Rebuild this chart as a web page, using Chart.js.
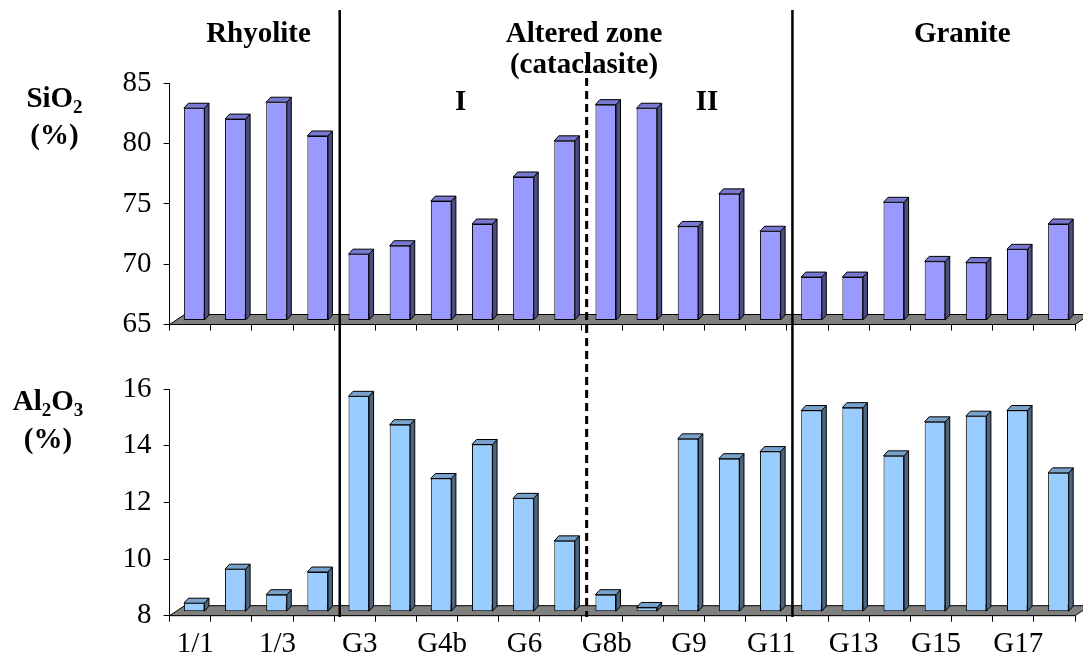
<!DOCTYPE html>
<html>
<head>
<meta charset="utf-8">
<title>SiO2 and Al2O3 across the rhyolite – altered zone – granite profile</title>
<script src="https://cdn.jsdelivr.net/npm/chart.js@4/dist/chart.umd.min.js"></script>
<style>
  html, body { margin: 0; padding: 0; background: #ffffff; }
  #wrap { position: relative; width: 1083px; height: 661px; overflow: hidden; }
  #topPanel { position: absolute; left: 0; top: 0; }
  #bottomPanel { position: absolute; left: 0; top: 355px; }
</style>
</head>
<body>
<div id="wrap">
  <canvas id="topPanel" width="1083" height="355"></canvas>
  <canvas id="bottomPanel" width="1083" height="306"></canvas>
</div>
<script>
// Samples along the profile (only every second one carries a printed name)
const samples = ['1/1', '', '1/3', '', 'G3', '', 'G4b', '', 'G6', '', 'G8b', '',
                 'G9', '', 'G11', '', 'G13', '', 'G15', '', 'G17', ''];

// SiO2 content, wt %
const sio2 = [82.6, 81.7, 83.1, 80.3, 70.5, 71.2, 74.9, 73.0, 76.9, 79.9, 82.9,
              82.6, 72.8, 75.5, 72.4, 68.6, 68.6, 74.8, 69.9, 69.8, 70.9, 73.0];

// Al2O3 content, wt %
const al2o3 = [8.3, 9.5, 8.6, 9.4, 15.6, 14.6, 12.7, 13.9, 12.0, 10.5, 8.6,
               8.15, 14.1, 13.4, 13.65, 15.1, 15.2, 13.5, 14.7, 14.9, 15.1, 12.9];

// Value-axis ranges and steps
const sio2Axis = [65, 85, 5];
const al2o3Axis = [8, 16, 2];

// Lithological units: solid boundaries, dashed sub-boundary (sample index where each begins)
const unitBreaks = [4, 15];
const subUnitBreak = 10;

// Unit headings: [text, position in category units from the left edge, line]
const unitTitles = [
  ['Rhyolite', 2.16, 0],
  ['Altered zone', 10.07, 0],
  ['(cataclasite)', 10.07, 1],
  ['Granite', 19.26, 0]
];
const subUnitTitles = [['I', 7.07], ['II', 13.06]];

const SERIF = '"Liberation Serif", "Times New Roman", Times, serif';
const FLOOR = { dx: 15, dy: -10 };     // depth of the gray floor
const SHIFT = { x: 4, y: -4 };         // bars stand a little way back on the floor
const BAR_DEPTH = { dx: 4.5, dy: -5 }; // depth of each column

function poly(ctx, pts, fill) {
  ctx.beginPath();
  ctx.moveTo(pts[0][0], pts[0][1]);
  for (let i = 1; i < pts.length; i++) ctx.lineTo(pts[i][0], pts[i][1]);
  ctx.closePath();
  ctx.fillStyle = fill;
  ctx.fill();
  ctx.strokeStyle = '#000';
  ctx.lineWidth = 1;
  ctx.stroke();
}

// Floor under the columns plus the top and side faces of each column
const columns3d = {
  id: 'columns3d',
  beforeDatasetsDraw(chart) {
    const { ctx, chartArea: a } = chart;
    ctx.save();
    poly(ctx, [[a.left, a.bottom], [a.right, a.bottom],
               [a.right + FLOOR.dx, a.bottom + FLOOR.dy], [a.left + FLOOR.dx, a.bottom + FLOOR.dy]], '#808080');
    ctx.restore();
    ctx.save();
    ctx.translate(SHIFT.x, SHIFT.y);
  },
  afterDatasetsDraw(chart, args, opts) {
    const ctx = chart.ctx;
    ctx.restore();
    ctx.save();
    const meta = chart.getDatasetMeta(0);
    meta.data.forEach(bar => {
      const p = bar.getProps(['x', 'y', 'base', 'width'], true);
      const l = p.x - p.width / 2 + SHIFT.x, r = p.x + p.width / 2 + SHIFT.x;
      const t = p.y + SHIFT.y, b = p.base + SHIFT.y;
      const dx = BAR_DEPTH.dx, dy = BAR_DEPTH.dy;
      poly(ctx, [[r, t], [r + dx, t + dy], [r + dx, b + dy], [r, b]], opts.side);
      poly(ctx, [[l, t], [r, t], [r + dx, t + dy], [l + dx, t + dy]], opts.top);
    });
    ctx.restore();
  }
};

function boundaryX(xs, i) {
  return (xs.getPixelForValue(i - 1) + xs.getPixelForValue(i)) / 2 + 5.5;
}

// Unit boundaries, headings and the vertical axis title
const annotations = {
  id: 'annotations',
  afterDraw(chart, args, opts) {
    const { ctx, chartArea: a } = chart;
    const xs = chart.scales.x;
    const catW = (a.right - a.left) / samples.length;
    ctx.save();
    ctx.strokeStyle = '#000';

    // solid unit boundaries
    ctx.lineWidth = 2.5;
    unitBreaks.forEach(i => {
      const x = boundaryX(xs, i);
      ctx.beginPath();
      ctx.moveTo(x, opts.solidFrom);
      ctx.lineTo(x, opts.lineTo);
      ctx.stroke();
    });

    // dashed boundary between parts I and II of the altered zone
    ctx.lineWidth = 3;
    ctx.setLineDash([8, 5]);
    ctx.lineDashOffset = opts.dashOffset;
    const xd = boundaryX(xs, subUnitBreak);
    ctx.beginPath();
    ctx.moveTo(xd, opts.dashFrom);
    ctx.lineTo(xd, opts.lineTo);
    ctx.stroke();
    ctx.setLineDash([]);

    ctx.fillStyle = '#000';
    ctx.textAlign = 'center';
    ctx.textBaseline = 'alphabetic';
    ctx.font = 'bold 29px ' + SERIF;
    if (opts.headings) {
      unitTitles.forEach(([txt, pos, line]) => {
        ctx.fillText(txt, a.left + pos * catW, a.top - 41.3 + line * 31.3);
      });
      subUnitTitles.forEach(([txt, pos]) => {
        ctx.fillText(txt, a.left + pos * catW, a.top + 26.7);
      });
    }

    // axis title: chemical formula with subscripts, then "(%)"
    const big = 'bold 29px ' + SERIF, small = 'bold 19px ' + SERIF;
    const parts = opts.formula;
    let total = 0;
    parts.forEach(([s, sub]) => { ctx.font = sub ? small : big; total += ctx.measureText(s).width; });
    let x = opts.titleX - total / 2;
    ctx.textAlign = 'left';
    parts.forEach(([s, sub]) => {
      ctx.font = sub ? small : big;
      ctx.fillText(s, x, a.top + opts.titleDy + (sub ? 6 : 0));
      x += ctx.measureText(s).width;
    });
    ctx.font = big;
    ctx.textAlign = 'center';
    ctx.fillText('(%)', opts.titleX, a.top + opts.titleDy + 37.5);
    ctx.restore();
  }
};

function makeOptions(range, showLabels, xHeight, padTop, plugOpts) {
  return {
    responsive: false,
    animation: false,
    devicePixelRatio: 1,
    layout: { padding: { top: padTop, right: 8, left: 0, bottom: 0 } },
    plugins: {
      legend: { display: false },
      tooltip: { enabled: false },
      columns3d: plugOpts.faces,
      annotations: plugOpts.notes
    },
    scales: {
      x: {
        offset: true,
        afterFit: s => { s.height = xHeight; },
        grid: { offset: true, drawOnChartArea: false, drawTicks: true, tickLength: 6, color: '#000', lineWidth: 1 },
        border: { display: true, color: '#000', width: 1 },
        ticks: {
          autoSkip: false, maxRotation: 0, padding: 5, labelOffset: 5, color: '#000',
          font: { family: SERIF, size: 29 },
          callback: (v, i) => showLabels ? samples[i] : ''
        }
      },
      y: {
        min: range[0], max: range[1],
        afterFit: s => { s.width = 169.6; },
        grid: { drawOnChartArea: false, drawTicks: true, tickLength: 6, color: '#000', lineWidth: 1 },
        border: { display: true, color: '#000', width: 1 },
        ticks: { stepSize: range[2], padding: 12, color: '#000', font: { family: SERIF, size: 29 } }
      }
    }
  };
}

new Chart(document.getElementById('topPanel'), {
  type: 'bar',
  data: {
    labels: samples,
    datasets: [{
      data: sio2, base: sio2Axis[0], backgroundColor: '#9999ff', borderColor: '#000', borderWidth: 1,
      borderSkipped: false, categoryPercentage: 1, barPercentage: 0.5
    }]
  },
  options: makeOptions(sio2Axis, false, 30.5, 83.3, {
    faces: { top: '#7878d0', side: '#4c4c86' },
    notes: {
      solidFrom: 10, dashFrom: 65, lineTo: 355, dashOffset: 0, headings: true,
      titleX: 54.5, titleDy: 23.4, formula: [['SiO', false], ['2', true]]
    }
  }),
  plugins: [columns3d, annotations]
});

new Chart(document.getElementById('bottomPanel'), {
  type: 'bar',
  data: {
    labels: samples,
    datasets: [{
      data: al2o3, base: al2o3Axis[0], backgroundColor: '#99ccff', borderColor: '#000', borderWidth: 1,
      borderSkipped: false, categoryPercentage: 1, barPercentage: 0.5
    }]
  },
  options: makeOptions(al2o3Axis, true, 45.3, 34, {
    faces: { top: '#78a2cc', side: '#4c6680' },
    notes: {
      solidFrom: 0, dashFrom: 0, lineTo: 262, dashOffset: 4, headings: false,
      titleX: 48, titleDy: 21, formula: [['Al', false], ['2', true], ['O', false], ['3', true]]
    }
  }),
  plugins: [columns3d, annotations]
});
</script>
</body>
</html>
